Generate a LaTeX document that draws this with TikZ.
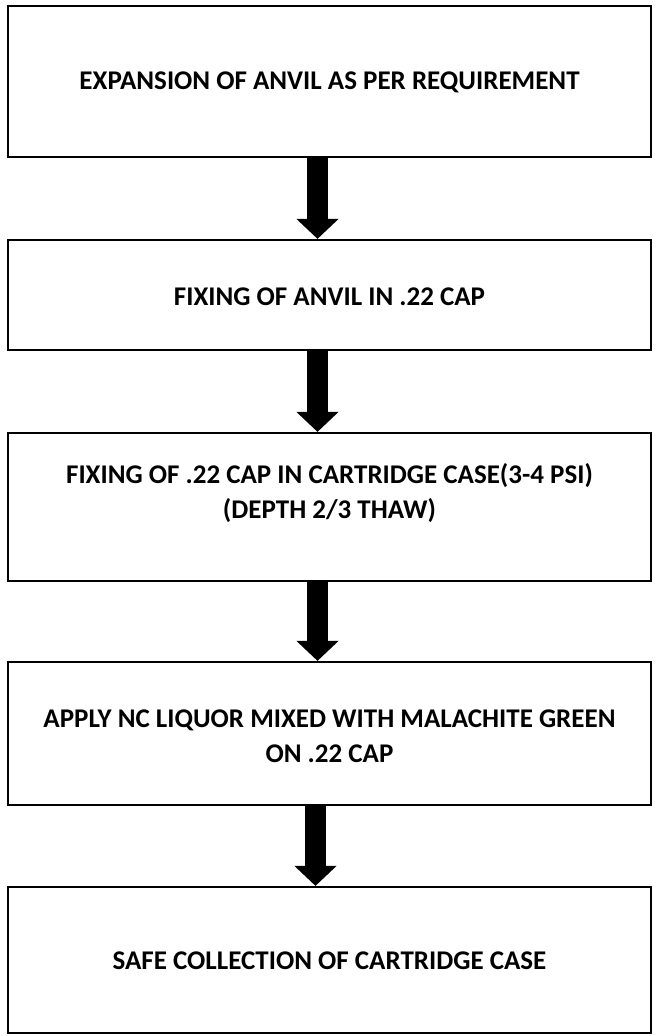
\documentclass[tikz,border=0pt]{standalone}
\usepackage{fontspec}
\setmainfont{Carlito}
\usetikzlibrary{arrows.meta}
\begin{document}
\begin{tikzpicture}[x=1pt,y=-1pt,
  stepbox/.style={draw=black,line width=2.2pt,minimum width=643pt,inner sep=0pt},
  steptext/.style={font=\bfseries\fontsize{27}{35}\selectfont,align=center,inner sep=0pt},
  bigarrow/.style={line width=21pt,-{Triangle[width=41pt,length=20pt]}}]
\useasboundingbox[fill=white] (0,0) rectangle (658,1036);
\node[stepbox,minimum height=151pt] (b1) at (329.5,81.5) {};
\node[stepbox,minimum height=110pt] (b2) at (329.5,295) {};
\node[stepbox,minimum height=148pt] (b3) at (329.5,507) {};
\node[stepbox,minimum height=143pt] (b4) at (329.5,733.5) {};
\node[stepbox,minimum height=146pt] (b5) at (329.5,960) {};
\node[steptext] (t1) at (329.5,82) {EXPANSION OF ANVIL AS PER REQUIREMENT};
\node[steptext] (t2) at (329.5,297) {FIXING OF ANVIL IN .22 CAP};
\node[steptext] (t3) at (329.5,493) {FIXING OF .22 CAP IN CARTRIDGE CASE(3-4 PSI)\\(DEPTH 2/3 THAW)};
\node[steptext] (t4) at (329.5,736) {APPLY NC LIQUOR MIXED WITH MALACHITE GREEN\\ON .22 CAP};
\node[steptext] (t5) at (329.5,961) {SAFE COLLECTION OF CARTRIDGE CASE};
\draw[bigarrow] ([xshift=-12pt]b1.south) -- ([xshift=-12pt]b2.north);
\draw[bigarrow] ([xshift=-12pt]b2.south) -- ([xshift=-12pt]b3.north);
\draw[bigarrow] ([xshift=-12pt]b3.south) -- ([xshift=-12pt]b4.north);
\draw[bigarrow] ([xshift=-14pt]b4.south) -- ([xshift=-14pt]b5.north);
\end{tikzpicture}
\end{document}
